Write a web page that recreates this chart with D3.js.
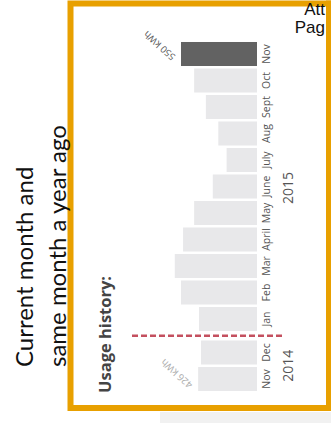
<!DOCTYPE html>
<html><head><meta charset="utf-8">
<script src="https://cdn.jsdelivr.net/npm/d3@7"></script>
<style>html,body{margin:0;padding:0;background:#fff;overflow:hidden}svg{display:block}</style>
</head><body>
<svg id="c" width="331" height="423"></svg>
<script>
// ---- data (bottom to top in picture: oldest first) ----
const months = ["Nov","Dec","Jan","Feb","Mar","April","May","June","July","Aug","Sept","Oct","Nov"];
const years  = [2014,2014,2015,2015,2015,2015,2015,2015,2015,2015,2015,2015,2015];
const usage  = [426,405,420,550,595,535,455,320,220,280,370,455,550];
const yearLabels = ["2014","2015"];
const valueLabels = ["426 kWh","550 kWh"]; // first and last month
const titleLines = ["Current month and","same month a year ago"];
const headerLines = ["Att","Pag"];

const svg = d3.select("#c");
const rows = months.map((m,i)=>({key:i, month:m, year:years[i], value:usage[i]}));

// bottom light gray panel
svg.append("rect").attr("x",160).attr("y",412).attr("width",171).attr("height",11).attr("fill","#f1f1f1");

// scales
const x = d3.scaleLinear().domain([0,550]).range([257,181]);
const keysTopDown = rows.map(d=>d.key).reverse();
const yb = d3.scaleBand().domain(keysTopDown).range([40.75,385.25]).paddingInner(0.094).paddingOuter(0.047);
const gap = 7;
const y = d => yb(d.key) + (d.year===2014 ? gap : 0);

const g = svg.append("g");
g.selectAll("rect.bar").data(rows).join("rect").attr("class","bar")
  .attr("x",d=>x(d.value)).attr("width",d=>x(0)-x(d.value))
  .attr("y",d=>y(d)).attr("height",yb.bandwidth())
  .attr("fill",(d,i)=> i===rows.length-1 ? "#626262" : "#e8e8ea");

// month labels
g.selectAll("text.m").data(rows).join("text").attr("class","m")
  .attr("transform",d=>`translate(270,${y(d)+yb.bandwidth()/2}) rotate(-90)`)
  .attr("text-anchor","middle")
  .attr("font-family","'Open Sans', sans-serif").attr("font-size",10.5).attr("fill","#555")
  .text(d=>d.month);

// year labels
const yr = yearLabels.map(yl=>{
  const sub = rows.filter(d=>String(d.year)===yl);
  const top = d3.min(sub,d=>y(d)), bot = d3.max(sub,d=>y(d)+yb.bandwidth());
  return {label:yl, cy: yl==="2015" ? 188 : (top+bot)/2};
});
g.selectAll("text.yr").data(yr).join("text").attr("class","yr")
  .attr("transform",d=>`translate(293,${d.cy}) rotate(-90)`)
  .attr("text-anchor","middle")
  .attr("font-family","'Open Sans', sans-serif").attr("font-size",14).attr("fill","#555")
  .text(d=>d.label);

// separator dashed line
const jan = rows.find(d=>d.year===2015), dec = rows.filter(d=>d.year===2014).slice(-1)[0];
const sepY = ((y(jan)+yb.bandwidth()) + y(dec))/2;
g.append("line").attr("x1",132).attr("x2",284).attr("y1",sepY).attr("y2",sepY)
  .attr("stroke","#c4505f").attr("stroke-width",2.5).attr("stroke-dasharray","6,3");

// value labels
const ends = [rows[0], rows[rows.length-1]];
g.selectAll("text.v").data(ends).join("text").attr("class","v")
  .attr("transform",(d,i)=> i===0
      ? `translate(${x(d.value)-5},${y(d)+yb.bandwidth()-7}) rotate(-138)`
      : `translate(${x(d.value)-5},${y(d)+14}) rotate(-138)`)
  .attr("font-family","'Open Sans', sans-serif").attr("font-size",9.5)
  .attr("fill",(d,i)=> i===0 ? "#aaaaaa" : "#555")
  .text((d,i)=>valueLabels[i]);

// usage history title
g.append("text").attr("transform","translate(111,393) rotate(-90)")
  .attr("font-family","'Open Sans', sans-serif").attr("font-weight","bold").attr("font-size",16.5).attr("fill","#444")
  .text("Usage history:");

// orange box
const orange = "#e8a000";
svg.append("path").attr("d","M331,3.5 H70.5 V408 H331").attr("fill","none").attr("stroke",orange).attr("stroke-width",6);
svg.append("line").attr("x1",328.5).attr("x2",328.5).attr("y1",0.5).attr("y2",411)
  .attr("stroke",orange).attr("stroke-width",5);

// header text (top right), over top border, ending before the right border
svg.selectAll("text.h").data(headerLines).join("text").attr("class","h")
  .attr("x",325).attr("y",(d,i)=> i===0 ? 15 : 33)
  .attr("text-anchor","end")
  .attr("font-family","'Liberation Sans', Arial, sans-serif").attr("font-size",17).attr("fill","#111")
  .text(d=>d);

// left rotated title (over the box)
svg.selectAll("text.t").data(titleLines).join("text").attr("class","t")
  .attr("transform",(d,i)=>`translate(${i===0?33:66},367) rotate(-90)`)
  .attr("font-family","Lato, sans-serif").attr("font-size",24).attr("fill","#111")
  .text(d=>d);
</script>
</body></html>
